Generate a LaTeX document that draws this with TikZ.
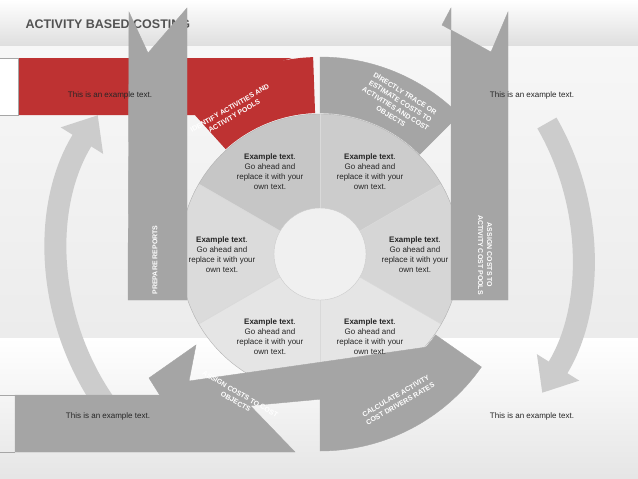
\documentclass[tikz,border=0pt]{standalone}
\usepackage{fontspec}
\setmainfont{Liberation Sans}
\usetikzlibrary{calc,arrows.meta}
\definecolor{band}{RGB}{165,165,165}
\definecolor{redb}{RGB}{190,50,50}
\tikzset{
  ex/.style={font=\fontsize{8}{10}\selectfont, align=center, text=black!85},
  lab/.style={font=\bfseries\fontsize{7}{9}\selectfont, align=center, text=white},
  bandc/.style={fill=band, draw=gray!70, line width=0.4pt},
  bigarrow/.style={gray!40, line width=22pt, -{Triangle[width=48pt,length=30pt]}}
}
\newcommand{\ringseg}[5]{\path[#5] ($(C)+(#1:#3)$) arc[start angle=#1,end angle=#2,radius=#3] -- ($(C)+(#2:#4)$) arc[start angle=#2,end angle=#1,radius=#4] -- cycle;}
\begin{document}
\begin{tikzpicture}[x=1pt,y=1pt]
\useasboundingbox (0,0) rectangle (638,-479);
\shade[top color=gray!5, bottom color=gray!15] (0,0) rectangle (638,-338);
\shade[top color=white, bottom color=gray!20] (0,-338) rectangle (638,-479);
\shade[top color=white, bottom color=gray!25] (0,0) rectangle (638,-45);
\node[anchor=west, font=\bfseries\fontsize{12.5}{14}\selectfont, text=gray!30!black!80] (title) at (22,-24) {ACTIVITY BASED COSTING};
\coordinate (C) at (320,-254);
% big curved arrows
\draw[bigarrow] (C) ++(218:262) arc[start angle=218,end angle=148,radius=262];
\draw[bigarrow] (C) ++(30:262) arc[start angle=30,end angle=-32,radius=262];
% red banner
\fill[redb] (18,-58) -- (292,-58) .. controls (250,-70) and (215,-95) .. (205,-115) -- (18,-115) -- cycle;
\fill[white] (0,-58) rectangle (18,-115);
\draw[gray!70] (0,-58) -- (18,-58) -- (18,-115) -- (0,-115);
\ringseg{92}{132}{141}{197}{fill=redb}
% gray ring segments
\ringseg{45}{90}{141}{197}{bandc}
% bottom left banner and ring
\path[bandc] (15,-395) -- (240,-395) -- (295,-452) -- (15,-452) -- cycle;
\draw[gray!70] (0,-395) -- (15,-395) (0,-452) -- (15,-452);
\ringseg{-90}{-35}{141}{197}{bandc}
% pie
\fill[gray!20] (C) circle[radius=140];
\fill[gray!45] (C) -- ++(90:140) arc[start angle=90,end angle=150,radius=140] -- cycle;
\fill[gray!40] (C) -- ++(30:140) arc[start angle=30,end angle=90,radius=140] -- cycle;
\fill[gray!28] (C) -- ++(150:140) arc[start angle=150,end angle=210,radius=140] -- cycle;
\fill[gray!32] (C) -- ++(-30:140) arc[start angle=-30,end angle=30,radius=140] -- cycle;
\foreach \a in {90,30,-30,-90,-150,150} \draw[white!70!gray, line width=0.6pt] (C) -- ++(\a:140);
\draw[gray!60] (C) circle[radius=140];
\fill[gray!12] (C) circle[radius=46];
\draw[gray!40] (C) circle[radius=46];
% band across bottom of pie
\path[bandc] (149,-378) -- (196,-345) -- (189,-381) -- (441,-345) -- (420,-390) -- (171,-413) -- cycle;
% vertical strips
\path[bandc] (129,-12) -- (148,-53) -- (187,-8) -- (187,-300) -- (128,-300) -- cycle;
\path[bandc] (451,-8) -- (442,-25) -- (491,-52) -- (508,-12) -- (508,-300) -- (451,-300) -- cycle;
% texts
\node[ex] (t1) at (110,-95) {This is an example text.};
\node[ex] (t2) at (532,-95) {This is an example text.};
\node[ex] (t3) at (108,-416) {This is an example text.};
\node[ex] (t4) at (532,-416) {This is an example text.};
\foreach \n/\x/\y in {p1/270/-172, p2/370/-172, p3/222/-255, p4/415/-255, p5/270/-337, p6/370/-337}
  \node[ex] (\n) at (\x,\y) {\textbf{Example text}.\\Go ahead and\\replace it with your\\own text.};
\node[lab, rotate=90] (l1) at (155,-260) {PREPARE REPORTS};
\node[lab, rotate=-90] (l2) at (485,-255) {ASSIGN COSTS TO\\ACTIVITY COST POOLS};
\node[lab, rotate=30] (l3) at (232,-112) {IDENTIFY ACTIVITIES AND\\ACTIVITY POOLS};
\node[lab, rotate=-32] (l4) at (398,-105) {DIRECTLY TRACE OR\\ESTIMATE COSTS TO\\ACTIVITIES AND COST\\OBJECTS};
\node[lab, rotate=-30] (l5) at (238,-398) {ASSIGN COSTS TO COST\\OBJECTS};
\node[lab, rotate=30] (l6) at (398,-400) {CALCULATE ACTIVITY\\COST DRIVERS RATES};
\end{tikzpicture}
\end{document}
